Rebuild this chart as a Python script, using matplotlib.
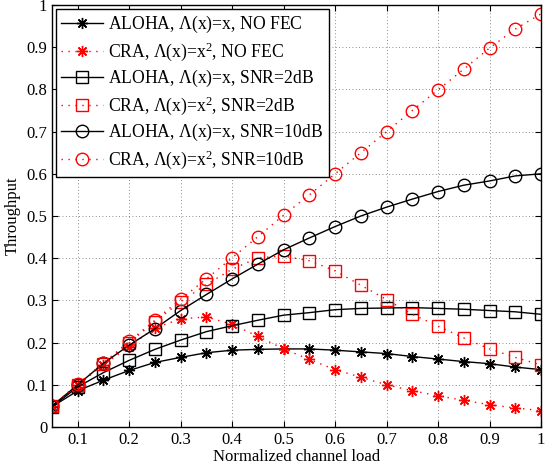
import matplotlib
matplotlib.use("Agg")
import matplotlib.pyplot as plt

plt.rcParams["font.family"] = ["Liberation Serif", "DejaVu Serif"]
plt.rcParams["mathtext.fontset"] = "custom"
plt.rcParams["mathtext.rm"] = "Liberation Serif"
plt.rcParams["mathtext.it"] = "Liberation Serif:italic"

load = [0.05, 0.10, 0.15, 0.20, 0.25, 0.30, 0.35, 0.40, 0.45, 0.50,
        0.55, 0.60, 0.65, 0.70, 0.75, 0.80, 0.85, 0.90, 0.95, 1.00]

aloha_nofec = [0.048, 0.086, 0.111, 0.134, 0.153, 0.165, 0.176, 0.182, 0.184, 0.185,
               0.185, 0.182, 0.178, 0.174, 0.167, 0.161, 0.155, 0.150, 0.142, 0.136]
cra_nofec = [0.050, 0.100, 0.148, 0.190, 0.235, 0.256, 0.261, 0.243, 0.215, 0.185,
             0.160, 0.136, 0.118, 0.100, 0.086, 0.074, 0.063, 0.053, 0.045, 0.039]
aloha_2db = [0.048, 0.095, 0.129, 0.158, 0.184, 0.206, 0.226, 0.240, 0.253, 0.265,
             0.271, 0.278, 0.281, 0.282, 0.283, 0.281, 0.279, 0.276, 0.273, 0.267]
cra_2db = [0.050, 0.100, 0.149, 0.200, 0.250, 0.297, 0.338, 0.374, 0.401, 0.405,
           0.394, 0.370, 0.336, 0.302, 0.267, 0.239, 0.211, 0.185, 0.165, 0.147]
aloha_10db = [0.050, 0.100, 0.151, 0.194, 0.233, 0.276, 0.314, 0.351, 0.386, 0.420,
              0.448, 0.475, 0.500, 0.521, 0.540, 0.558, 0.573, 0.583, 0.595, 0.600]
cra_10db = [0.050, 0.102, 0.152, 0.203, 0.253, 0.303, 0.351, 0.401, 0.451, 0.502,
            0.550, 0.600, 0.650, 0.700, 0.750, 0.799, 0.848, 0.898, 0.943, 0.979]

labels = [
    r"ALOHA, $\Lambda$(x)=x, NO FEC",
    r"CRA, $\Lambda$(x)=x$^2$, NO FEC",
    r"ALOHA, $\Lambda$(x)=x, SNR=2dB",
    r"CRA, $\Lambda$(x)=x$^2$, SNR=2dB",
    r"ALOHA, $\Lambda$(x)=x, SNR=10dB",
    r"CRA, $\Lambda$(x)=x$^2$, SNR=10dB",
]

fig = plt.figure(figsize=(5.56, 4.76), dpi=100)
ax = fig.add_axes([52 / 556, 1 - 427 / 476, 489 / 556, 422 / 476])

star = (8, 2, 0)
black = dict(color="black", linestyle="-", linewidth=1.0, markerfacecolor="none")
red = dict(color="red", linestyle=(0, (1, 4)), linewidth=1.0, markerfacecolor="none")

ax.plot(load, aloha_nofec, marker=star, markersize=8, label=labels[0], **black)
ax.plot(load, cra_nofec, marker=star, markersize=8, label=labels[1], **red)
ax.plot(load, aloha_2db, marker="s", markersize=8, label=labels[2], **black)
ax.plot(load, cra_2db, marker="s", markersize=8, label=labels[3], **red)
ax.plot(load, aloha_10db, marker="o", markersize=9, label=labels[4], **black)
ax.plot(load, cra_10db, marker="o", markersize=9, label=labels[5], **red)

ax.set_xlim(0.05, 1)
ax.set_ylim(0, 1)
ax.set_xticks([0.1, 0.2, 0.3, 0.4, 0.5, 0.6, 0.7, 0.8, 0.9, 1])
ax.set_xticklabels(["0.1", "0.2", "0.3", "0.4", "0.5", "0.6", "0.7", "0.8", "0.9", "1"])
ax.set_yticks([0, 0.1, 0.2, 0.3, 0.4, 0.5, 0.6, 0.7, 0.8, 0.9, 1])
ax.set_yticklabels(["0", "0.1", "0.2", "0.3", "0.4", "0.5", "0.6", "0.7", "0.8", "0.9", "1"])
ax.tick_params(direction="in", top=True, right=True, labelsize=12, length=4)
ax.grid(True, color="black", linestyle=(0, (1, 3)), linewidth=0.6, alpha=0.6)
for s in ax.spines.values():
    s.set_linewidth(1.0)

ax.set_xlabel("Normalized channel load", fontsize=12, labelpad=1)
ax.set_ylabel("Throughput", fontsize=12, labelpad=4)

leg = ax.legend(loc="upper left", fontsize=12.7, fancybox=False, framealpha=1,
                edgecolor="black", borderpad=0.3, labelspacing=0.3,
                handlelength=2.4, handletextpad=0.3, borderaxespad=0.2)
leg.get_frame().set_linewidth(1.0)

fig.savefig("out.png", dpi=100)
